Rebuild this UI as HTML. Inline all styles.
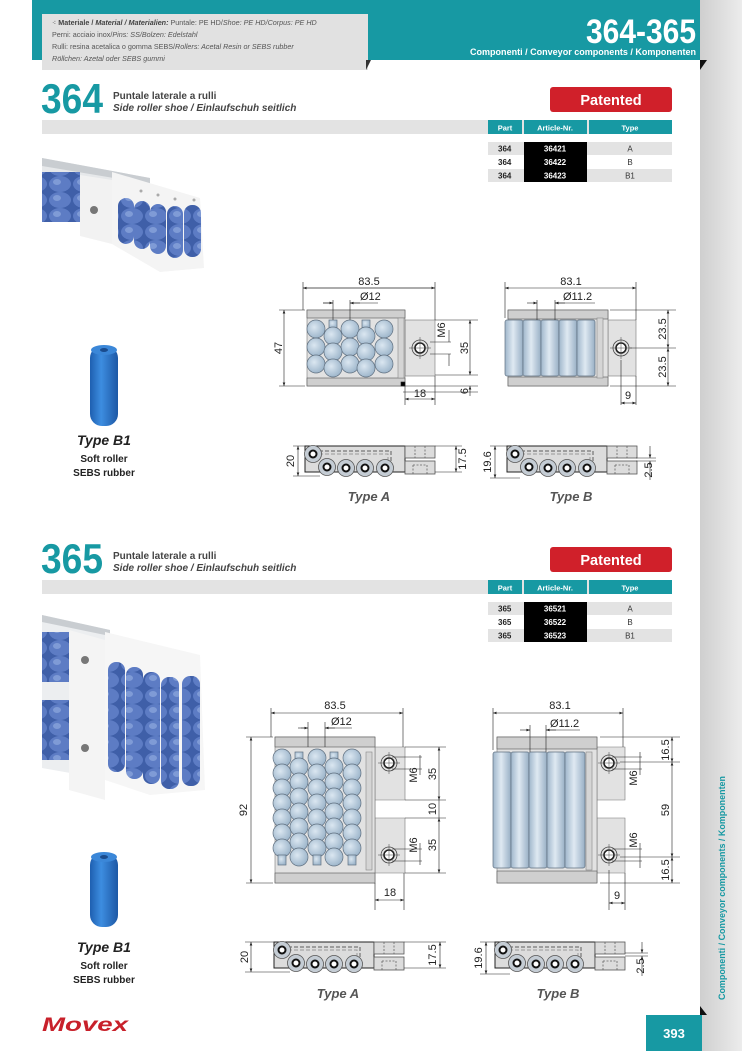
<!DOCTYPE html>
<html><head><meta charset="utf-8"><style>
html,body{margin:0;padding:0;background:#fff}
svg{display:block}
text{font-family:"Liberation Sans",sans-serif}
</style></head><body>
<svg width="742" height="1051" viewBox="0 0 742 1051" xmlns="http://www.w3.org/2000/svg">
<defs>
<linearGradient id="side" x1="0" x2="1"><stop offset="0" stop-color="#cfcfcf"/><stop offset="1" stop-color="#ececec"/></linearGradient>
<marker id="ar" viewBox="0 0 8 6" refX="8" refY="3" markerWidth="6" markerHeight="4.5" orient="auto-start-reverse"><path d="M0,0L8,3L0,6z" fill="#222"/></marker>
<pattern id="pball" width="24" height="16" patternUnits="userSpaceOnUse"><rect width="24" height="16" fill="#3f5fa8"/><ellipse cx="12" cy="8" rx="11" ry="8" fill="#5d7cc4"/><ellipse cx="9" cy="6" rx="4" ry="3" fill="#7f9bd6"/></pattern>
<radialGradient id="db" cx="0.4" cy="0.4" r="0.6"><stop offset="0" stop-color="#dbe7f1"/><stop offset="1" stop-color="#9fb7cc"/></radialGradient>
<linearGradient id="cyl" x1="0" x2="1"><stop offset="0" stop-color="#9fb6cb"/><stop offset="0.45" stop-color="#dfe9f2"/><stop offset="1" stop-color="#98afc5"/></linearGradient>
<linearGradient id="b1" x1="0" x2="1"><stop offset="0" stop-color="#1e5fb0"/><stop offset="0.4" stop-color="#3d8de0"/><stop offset="1" stop-color="#1d58a5"/></linearGradient>
<g id="sideA">
 <rect x="0" y="0" width="100" height="26" fill="#dcdcdc" stroke="#222" stroke-width="1"/>
 <path d="M14,5H86V24" fill="none" stroke="#888" stroke-width="1.5" stroke-dasharray="4,2"/>
 <path d="M14,8H83V24" fill="none" stroke="#999" stroke-width="1" stroke-dasharray="4,2"/>
 <rect x="100" y="0" width="30" height="12" fill="#dcdcdc" stroke="#555" stroke-width="0.8"/>
 <rect x="100" y="15" width="30" height="13" fill="#dcdcdc" stroke="#555" stroke-width="0.8"/>
 <path d="M110,0V12M120,0V12M108,19H122V28M108,19V28" fill="none" stroke="#666" stroke-width="0.8" stroke-dasharray="2,1.5"/>
 <g fill="#c4ccd4" stroke="#555" stroke-width="0.8">
 <circle cx="8" cy="8" r="8.5"/><circle cx="22" cy="21" r="8.5"/><circle cx="41" cy="22" r="8.5"/><circle cx="60" cy="22" r="8.5"/><circle cx="80" cy="22" r="8.5"/></g>
 <g fill="#fff" stroke="#111" stroke-width="2">
 <circle cx="8" cy="8" r="3.5"/><circle cx="22" cy="21" r="3.5"/><circle cx="41" cy="22" r="3.5"/><circle cx="60" cy="22" r="3.5"/><circle cx="80" cy="22" r="3.5"/></g>
</g>
<g id="hole"><circle r="8" fill="none" stroke="#444" stroke-width="0.8"/><circle r="5" fill="#fff" stroke="#222" stroke-width="1.6"/><path d="M-11,0H11M0,-11V11" stroke="#444" stroke-width="0.5"/></g>
</defs>

<!-- right strip -->
<rect x="700" y="0" width="42" height="1051" fill="url(#side)"/>
<!-- header -->
<rect x="32" y="0" width="668" height="60" fill="#1799a3"/>
<rect x="42" y="14" width="326" height="56" fill="#e1e1e1"/>
<path d="M366,60L371,60L366,70z" fill="#333"/>
<path d="M700,60L707,60L700,70z" fill="#111"/>
<text x="52" y="25" font-size="7.2" fill="#555"><tspan fill="#333">⁖</tspan><tspan font-weight="bold" fill="#444"> Materiale / </tspan><tspan font-weight="bold" font-style="italic" fill="#444">Material / Materialien:</tspan> Puntale: PE HD/<tspan font-style="italic">Shoe: PE HD/Corpus: PE HD</tspan></text>
<text x="52" y="37" font-size="7.2" fill="#555">Perni: acciaio inox/<tspan font-style="italic">Pins: SS/Bolzen: Edelstahl</tspan></text>
<text x="52" y="49" font-size="7.2" fill="#555">Rulli: resina acetalica o gomma SEBS/<tspan font-style="italic">Rollers: Acetal Resin or SEBS rubber</tspan></text>
<text x="52" y="61" font-size="7.2" fill="#555" font-style="italic">Röllchen: Azetal oder SEBS gummi</text>
<text x="696" y="43" font-size="34" font-weight="bold" fill="#fff" text-anchor="end" textLength="110" lengthAdjust="spacingAndGlyphs">364-365</text>
<text x="696" y="55" font-size="9.5" font-weight="bold" fill="#fff" text-anchor="end" textLength="226" lengthAdjust="spacingAndGlyphs">Componenti / Conveyor components / Komponenten</text>

<!-- section 364 -->
<text x="41" y="113" font-size="42" font-weight="bold" fill="#1799a3" textLength="62" lengthAdjust="spacingAndGlyphs">364</text>
<text x="113" y="99" font-size="10" font-weight="bold" fill="#444">Puntale laterale a rulli</text>
<text x="113" y="111" font-size="10" font-weight="bold" font-style="italic" fill="#444">Side roller shoe / Einlaufschuh seitlich</text>
<rect x="550" y="87" width="122" height="25" rx="3" fill="#d0202a"/>
<text x="611" y="105" font-size="14.5" font-weight="bold" fill="#fff" text-anchor="middle">Patented</text>
<rect x="42" y="120" width="630" height="14" fill="#e3e3e3"/>
<g>
<rect x="488" y="120" width="34" height="14" fill="#1799a3"/><rect x="524" y="120" width="63" height="14" fill="#1799a3"/><rect x="589" y="120" width="83" height="14" fill="#1799a3"/>
<text x="505" y="130.5" font-size="7.5" font-weight="bold" fill="#fff" text-anchor="middle">Part</text>
<text x="555" y="130.5" font-size="7.5" font-weight="bold" fill="#fff" text-anchor="middle">Article-Nr.</text>
<text x="630" y="130.5" font-size="7.5" font-weight="bold" fill="#fff" text-anchor="middle">Type</text>
<rect x="488" y="142" width="184" height="13" fill="#e3e3e3"/><rect x="488" y="169" width="184" height="13" fill="#e3e3e3"/>
<rect x="524" y="142" width="63" height="40" fill="#000"/>
<g font-size="8" font-weight="bold" fill="#222"><text x="498" y="151.5">364</text><text x="498" y="165">364</text><text x="498" y="178.5">364</text></g>
<g font-size="8" font-weight="bold" fill="#fff" text-anchor="middle"><text x="555" y="151.5">36421</text><text x="555" y="165">36422</text><text x="555" y="178.5">36423</text></g>
<g font-size="8" fill="#333" text-anchor="middle"><text x="630" y="151.5">A</text><text x="630" y="165">B</text><text x="630" y="178.5">B1</text></g>
</g>

<!-- photo 364 -->
<path d="M42,158L150,178L150,228L42,215z" fill="#e6e8ea"/>
<path d="M42,158L150,178L150,184L42,166z" fill="#c9cdd1"/>
<rect x="42" y="172" width="38" height="50" fill="url(#pball)"/>
<path d="M80,175L112,180L112,244L80,236z" fill="#f2f2f2"/>
<circle cx="94" cy="210" r="4" fill="#777"/>
<path d="M112,172L200,198L204,268L160,272L112,244z" fill="#f4f4f4"/>
<rect x="118" y="198" width="16" height="46" rx="8" fill="url(#pball)"/>
<rect x="134" y="201" width="16" height="48" rx="8" fill="url(#pball)"/>
<rect x="150" y="204" width="16" height="50" rx="8" fill="url(#pball)"/>
<rect x="167" y="206" width="16" height="52" rx="8" fill="url(#pball)"/>
<rect x="184" y="205" width="17" height="52" rx="8" fill="url(#pball)"/>
<g fill="#aaa"><circle cx="141" cy="191" r="1.5"/><circle cx="158" cy="195" r="1.5"/><circle cx="175" cy="199" r="1.5"/><circle cx="194" cy="200" r="1.5"/></g>

<!-- B1 364 -->
<rect x="90" y="346" width="28" height="80" rx="12" fill="url(#b1)"/>
<ellipse cx="104" cy="350" rx="13" ry="5" fill="#3b87d8"/><ellipse cx="104" cy="350" rx="4" ry="2" fill="#1a4c8e"/>
<text x="104" y="445" font-size="14" font-weight="bold" font-style="italic" fill="#222" text-anchor="middle">Type B1</text>
<text x="104" y="462" font-size="10" font-weight="bold" fill="#222" text-anchor="middle">Soft roller</text>
<text x="104" y="476" font-size="10" font-weight="bold" fill="#222" text-anchor="middle">SEBS rubber</text>

<!-- 364 type A top -->
<g stroke-width="0.6" stroke="#222" fill="none">
<rect x="405" y="320" width="30" height="56" fill="#e2e2e2" stroke="#777"/>
<rect x="307" y="310" width="98" height="76" fill="#e2e2e2" stroke="#777"/>
<rect x="307" y="310" width="98" height="8" fill="#cfcfcf" stroke="#555"/>
<rect x="307" y="378" width="98" height="8" fill="#cfcfcf" stroke="#555"/>
<rect x="398" y="318" width="6" height="60" fill="#d5d5d5" stroke="#888"/>
<g fill="url(#db)" stroke="#607080" stroke-width="0.7">
<circle cx="316" cy="329" r="9"/><circle cx="316" cy="347" r="9"/><circle cx="316" cy="364" r="9"/>
<circle cx="350" cy="329" r="9"/><circle cx="350" cy="347" r="9"/><circle cx="350" cy="364" r="9"/>
<circle cx="384" cy="329" r="9"/><circle cx="384" cy="347" r="9"/><circle cx="384" cy="364" r="9"/>
<rect x="329" y="320" width="8" height="8"/><circle cx="333" cy="336" r="9"/><circle cx="333" cy="352" r="9"/><circle cx="333" cy="368" r="9"/>
<rect x="362" y="320" width="8" height="8"/><circle cx="366" cy="336" r="9"/><circle cx="366" cy="352" r="9"/><circle cx="366" cy="368" r="9"/>
</g>
<use href="#hole" x="420" y="348"/>
<rect x="401" y="382" width="4" height="4" fill="#000"/>
<path d="M303,310V282M435,320V282M303,288H435" /><path d="M303,288H435" marker-start="url(#ar)" marker-end="url(#ar)"/>
<path d="M333,320V300M350,320V300M323,303H333M350,303H378"/><path d="M323,303H333" marker-end="url(#ar)"/><path d="M360,303H350" marker-end="url(#ar)"/>
<path d="M305,310H279M305,386H279"/><path d="M284,310V386" marker-start="url(#ar)" marker-end="url(#ar)"/>
<path d="M435,320H478M435,375H478M403,386H478M403,392H478"/><path d="M470,320V375" marker-start="url(#ar)" marker-end="url(#ar)"/><path d="M470,396V386" marker-end="url(#ar)"/>
<path d="M430,342H451M430,354H451"/><path d="M449,330V342M449,366V354" />
<path d="M405,386V405M435,376V405"/><path d="M405,399H435" marker-start="url(#ar)" marker-end="url(#ar)"/>
</g>
<g font-size="11" fill="#222">
<text x="369" y="285" text-anchor="middle">83.5</text>
<text x="360" y="300">Ø12</text>
<text transform="translate(282,348) rotate(-90)" text-anchor="middle">47</text>
<text transform="translate(468,348) rotate(-90)" text-anchor="middle">35</text>
<text transform="translate(468,391) rotate(-90)" text-anchor="middle">6</text>
<text transform="translate(445,330) rotate(-90)" text-anchor="middle">M6</text>
<text x="420" y="397" text-anchor="middle">18</text>
</g>

<!-- 364 type B top -->
<g stroke-width="0.6" stroke="#222" fill="none">
<rect x="608" y="320" width="28" height="56" fill="#e2e2e2" stroke="#777"/>
<rect x="508" y="310" width="100" height="76" fill="#e2e2e2" stroke="#777"/>
<rect x="508" y="310" width="100" height="9" fill="#cfcfcf" stroke="#555"/>
<rect x="508" y="377" width="100" height="9" fill="#cfcfcf" stroke="#555"/>
<rect x="597" y="318" width="6" height="60" fill="#d5d5d5" stroke="#888"/>
<g fill="url(#cyl)" stroke="#607080" stroke-width="0.7">
<rect x="505" y="320" width="18" height="56" rx="2"/><rect x="523" y="320" width="18" height="56" rx="2"/><rect x="541" y="320" width="18" height="56" rx="2"/><rect x="559" y="320" width="18" height="56" rx="2"/><rect x="577" y="320" width="18" height="56" rx="2"/>
</g>
<use href="#hole" x="621" y="348"/>
<path d="M505,318V282M636,320V282"/><path d="M505,288H636" marker-start="url(#ar)" marker-end="url(#ar)"/>
<path d="M537,320V300M555,320V300M535,303H537M555,303H595"/><path d="M527,303H537" marker-end="url(#ar)"/><path d="M565,303H555" marker-end="url(#ar)"/>
<path d="M610,310H676M630,348H676M610,386H676"/><path d="M668,310V348" marker-start="url(#ar)" marker-end="url(#ar)"/><path d="M668,348V386" marker-start="url(#ar)" marker-end="url(#ar)"/>
<path d="M621,360V405M636,376V405"/><path d="M621,403H636" marker-start="url(#ar)" marker-end="url(#ar)"/>
</g>
<g font-size="11" fill="#222">
<text x="571" y="285" text-anchor="middle">83.1</text>
<text x="563" y="300">Ø11.2</text>
<text transform="translate(666,329) rotate(-90)" text-anchor="middle">23.5</text>
<text transform="translate(666,367) rotate(-90)" text-anchor="middle">23.5</text>
<text x="628" y="399" text-anchor="middle">9</text>
</g>

<!-- 364 side views -->
<use href="#sideA" x="305" y="446"/>
<use href="#sideA" x="507" y="446"/>
<g stroke="#222" stroke-width="0.6" fill="none">
<path d="M293,446H305M293,476H320"/><path d="M298,446V476" marker-start="url(#ar)" marker-end="url(#ar)"/>
<path d="M435,446H462M435,472H462"/><path d="M456,446V472" marker-start="url(#ar)" marker-end="url(#ar)"/>
<path d="M490,446H507M490,478H520"/><path d="M495,446V478" marker-start="url(#ar)" marker-end="url(#ar)"/>
<path d="M636,458H656M636,461H656"/><path d="M650,446V458" marker-end="url(#ar)"/><path d="M650,480V461" marker-end="url(#ar)"/>
</g>
<g font-size="11" fill="#222">
<text transform="translate(294,461) rotate(-90)" text-anchor="middle">20</text>
<text transform="translate(466,459) rotate(-90)" text-anchor="middle">17.5</text>
<text transform="translate(491,462) rotate(-90)" text-anchor="middle">19.6</text>
<text transform="translate(652,470) rotate(-90)" text-anchor="middle">2.5</text>
</g>
<text x="369" y="501" font-size="13" font-weight="bold" font-style="italic" fill="#555" text-anchor="middle">Type A</text>
<text x="571" y="501" font-size="13" font-weight="bold" font-style="italic" fill="#555" text-anchor="middle">Type B</text>

<!-- section 365 -->
<text x="41" y="573" font-size="42" font-weight="bold" fill="#1799a3" textLength="62" lengthAdjust="spacingAndGlyphs">365</text>
<text x="113" y="559" font-size="10" font-weight="bold" fill="#444">Puntale laterale a rulli</text>
<text x="113" y="571" font-size="10" font-weight="bold" font-style="italic" fill="#444">Side roller shoe / Einlaufschuh seitlich</text>
<rect x="550" y="547" width="122" height="25" rx="3" fill="#d0202a"/>
<text x="611" y="565" font-size="14.5" font-weight="bold" fill="#fff" text-anchor="middle">Patented</text>
<rect x="42" y="580" width="630" height="14" fill="#e3e3e3"/>
<g>
<rect x="488" y="580" width="34" height="14" fill="#1799a3"/><rect x="524" y="580" width="63" height="14" fill="#1799a3"/><rect x="589" y="580" width="83" height="14" fill="#1799a3"/>
<text x="505" y="590.5" font-size="7.5" font-weight="bold" fill="#fff" text-anchor="middle">Part</text>
<text x="555" y="590.5" font-size="7.5" font-weight="bold" fill="#fff" text-anchor="middle">Article-Nr.</text>
<text x="630" y="590.5" font-size="7.5" font-weight="bold" fill="#fff" text-anchor="middle">Type</text>
<rect x="488" y="602" width="184" height="13" fill="#e3e3e3"/><rect x="488" y="629" width="184" height="13" fill="#e3e3e3"/>
<rect x="524" y="602" width="63" height="40" fill="#000"/>
<g font-size="8" font-weight="bold" fill="#222"><text x="498" y="611.5">365</text><text x="498" y="625">365</text><text x="498" y="638.5">365</text></g>
<g font-size="8" font-weight="bold" fill="#fff" text-anchor="middle"><text x="555" y="611.5">36521</text><text x="555" y="625">36522</text><text x="555" y="638.5">36523</text></g>
<g font-size="8" fill="#333" text-anchor="middle"><text x="630" y="611.5">A</text><text x="630" y="625">B</text><text x="630" y="638.5">B1</text></g>
</g>

<!-- photo 365 -->
<path d="M42,615L110,630L110,780L42,768z" fill="#eceef0"/>
<path d="M42,615L110,630L110,636L42,622z" fill="#c9cdd1"/>
<rect x="42" y="632" width="27" height="50" fill="url(#pball)"/>
<rect x="42" y="700" width="27" height="60" fill="url(#pball)"/>
<path d="M69,630L105,640L105,800L69,790z" fill="#f4f4f4"/>
<circle cx="85" cy="660" r="4" fill="#777"/><circle cx="85" cy="748" r="4" fill="#777"/>
<path d="M105,632L200,655L205,790L150,795L105,780z" fill="#f6f6f6"/>
<rect x="108" y="662" width="17" height="110" rx="8" fill="url(#pball)"/>
<rect x="126" y="667" width="17" height="112" rx="8" fill="url(#pball)"/>
<rect x="143" y="672" width="17" height="112" rx="8" fill="url(#pball)"/>
<rect x="161" y="677" width="18" height="112" rx="8" fill="url(#pball)"/>
<rect x="182" y="676" width="18" height="110" rx="8" fill="url(#pball)"/>

<!-- B1 365 -->
<rect x="90" y="853" width="28" height="74" rx="12" fill="url(#b1)"/>
<ellipse cx="104" cy="857" rx="13" ry="5" fill="#3b87d8"/><ellipse cx="104" cy="857" rx="4" ry="2" fill="#1a4c8e"/>
<text x="104" y="952" font-size="14" font-weight="bold" font-style="italic" fill="#222" text-anchor="middle">Type B1</text>
<text x="104" y="969" font-size="10" font-weight="bold" fill="#222" text-anchor="middle">Soft roller</text>
<text x="104" y="983" font-size="10" font-weight="bold" fill="#222" text-anchor="middle">SEBS rubber</text>

<!-- 365 type A top -->
<g stroke-width="0.6" stroke="#222" fill="none">
<path d="M375,747H405V800H375V818H405V873H375z" fill="#e2e2e2" stroke="#777"/>
<rect x="275" y="737" width="100" height="146" fill="#e2e2e2" stroke="#777"/>
<rect x="275" y="737" width="100" height="10" fill="#cfcfcf" stroke="#555"/>
<rect x="275" y="873" width="100" height="10" fill="#cfcfcf" stroke="#555"/>
<rect x="366" y="752" width="6" height="118" fill="#d5d5d5" stroke="#888"/>
<g fill="url(#db)" stroke="#607080" stroke-width="0.7">
<g id="colA"><circle cx="282" cy="758" r="9"/><circle cx="282" cy="773" r="9"/><circle cx="282" cy="788" r="9"/><circle cx="282" cy="803" r="9"/><circle cx="282" cy="818" r="9"/><circle cx="282" cy="833" r="9"/><circle cx="282" cy="848" r="9"/><rect x="278" y="855" width="8" height="10"/></g>
<use href="#colA" x="35"/><use href="#colA" x="70"/>
<g id="colB"><rect x="295" y="752" width="8" height="8"/><circle cx="299" cy="767" r="9"/><circle cx="299" cy="782" r="9"/><circle cx="299" cy="797" r="9"/><circle cx="299" cy="812" r="9"/><circle cx="299" cy="827" r="9"/><circle cx="299" cy="842" r="9"/><circle cx="299" cy="857" r="9"/></g>
<use href="#colB" x="35"/>
</g>
<use href="#hole" x="389" y="763"/><use href="#hole" x="389" y="855"/>
<path d="M271,737V708M403,747V708"/><path d="M271,713H403" marker-start="url(#ar)" marker-end="url(#ar)"/>
<path d="M308,747V722M325,747V722M301,728H308M325,728H352"/><path d="M298,728H308" marker-end="url(#ar)"/><path d="M335,728H325" marker-end="url(#ar)"/>
<path d="M273,737H246M273,883H246"/><path d="M251,737V883" marker-start="url(#ar)" marker-end="url(#ar)"/>
<path d="M405,747H446M405,800H446M405,818H446M405,873H446"/>
<path d="M439,747V800" marker-start="url(#ar)" marker-end="url(#ar)"/><path d="M439,800V818" /><path d="M439,818V873" marker-start="url(#ar)" marker-end="url(#ar)"/>
<path d="M392,757H422M392,769H422M392,849H422M392,861H422"/><path d="M420,755V775M420,843V865"/>
<path d="M375,883V910M404,873V910"/><path d="M375,900H404" marker-start="url(#ar)" marker-end="url(#ar)"/>
</g>
<g font-size="11" fill="#222">
<text x="335" y="709" text-anchor="middle">83.5</text>
<text x="331" y="725">Ø12</text>
<text transform="translate(247,810) rotate(-90)" text-anchor="middle">92</text>
<text transform="translate(436,774) rotate(-90)" text-anchor="middle">35</text>
<text transform="translate(436,809) rotate(-90)" text-anchor="middle">10</text>
<text transform="translate(436,845) rotate(-90)" text-anchor="middle">35</text>
<text transform="translate(417,775) rotate(-90)" text-anchor="middle">M6</text>
<text transform="translate(417,845) rotate(-90)" text-anchor="middle">M6</text>
<text x="390" y="896" text-anchor="middle">18</text>
</g>

<!-- 365 type B top -->
<g stroke-width="0.6" stroke="#222" fill="none">
<path d="M597,747H625V800H597V818H625V873H597z" fill="#e2e2e2" stroke="#777"/>
<rect x="497" y="737" width="100" height="146" fill="#e2e2e2" stroke="#777"/>
<rect x="497" y="737" width="100" height="12" fill="#cfcfcf" stroke="#555"/>
<rect x="497" y="871" width="100" height="12" fill="#cfcfcf" stroke="#555"/>
<rect x="586" y="752" width="6" height="118" fill="#d5d5d5" stroke="#888"/>
<g fill="url(#cyl)" stroke="#607080" stroke-width="0.7">
<rect x="493" y="752" width="18" height="116" rx="2"/><rect x="511" y="752" width="18" height="116" rx="2"/><rect x="529" y="752" width="18" height="116" rx="2"/><rect x="547" y="752" width="18" height="116" rx="2"/><rect x="565" y="752" width="20" height="116" rx="2"/>
</g>
<use href="#hole" x="609" y="763"/><use href="#hole" x="609" y="855"/>
<path d="M493,750V708M623,747V708"/><path d="M493,713H623" marker-start="url(#ar)" marker-end="url(#ar)"/>
<path d="M530,752V725M546,752V725M526,730H530M546,730H580"/><path d="M520,730H530" marker-end="url(#ar)"/><path d="M556,730H546" marker-end="url(#ar)"/>
<path d="M600,737H680M620,762H680M620,857H680M600,883H680"/>
<path d="M672,737V762" marker-start="url(#ar)" marker-end="url(#ar)"/><path d="M672,762V857" marker-start="url(#ar)" marker-end="url(#ar)"/><path d="M672,857V883" marker-start="url(#ar)" marker-end="url(#ar)"/>
<path d="M612,757H642M612,769H642M612,849H642M612,861H642"/><path d="M640,752V775M640,843V868"/>
<path d="M609,870V910M625,873V910"/><path d="M609,903H625" marker-start="url(#ar)" marker-end="url(#ar)"/>
</g>
<g font-size="11" fill="#222">
<text x="560" y="709" text-anchor="middle">83.1</text>
<text x="550" y="727">Ø11.2</text>
<text transform="translate(669,750) rotate(-90)" text-anchor="middle">16.5</text>
<text transform="translate(669,810) rotate(-90)" text-anchor="middle">59</text>
<text transform="translate(669,870) rotate(-90)" text-anchor="middle">16.5</text>
<text transform="translate(637,778) rotate(-90)" text-anchor="middle">M6</text>
<text transform="translate(637,840) rotate(-90)" text-anchor="middle">M6</text>
<text x="617" y="899" text-anchor="middle">9</text>
</g>

<!-- 365 side views -->
<use href="#sideA" x="274" y="942"/>
<use href="#sideA" x="495" y="942"/>
<g stroke="#222" stroke-width="0.6" fill="none">
<path d="M245,942H274M245,972H290"/><path d="M251,942V972" marker-start="url(#ar)" marker-end="url(#ar)"/>
<path d="M404,942H446M404,968H446"/><path d="M440,942V968" marker-start="url(#ar)" marker-end="url(#ar)"/>
<path d="M480,942H495M480,974H510"/><path d="M486,942V974" marker-start="url(#ar)" marker-end="url(#ar)"/>
<path d="M625,953H648M625,956H648"/><path d="M642,942V953" marker-end="url(#ar)"/><path d="M642,976V956" marker-end="url(#ar)"/>
</g>
<g font-size="11" fill="#222">
<text transform="translate(248,957) rotate(-90)" text-anchor="middle">20</text>
<text transform="translate(436,955) rotate(-90)" text-anchor="middle">17.5</text>
<text transform="translate(482,958) rotate(-90)" text-anchor="middle">19.6</text>
<text transform="translate(644,966) rotate(-90)" text-anchor="middle">2.5</text>
</g>
<text x="338" y="998" font-size="13" font-weight="bold" font-style="italic" fill="#555" text-anchor="middle">Type A</text>
<text x="558" y="998" font-size="13" font-weight="bold" font-style="italic" fill="#555" text-anchor="middle">Type B</text>

<!-- vertical label -->
<text transform="translate(725,888) rotate(-90)" font-size="9.5" font-weight="bold" fill="#1799a3" text-anchor="middle" textLength="224" lengthAdjust="spacingAndGlyphs">Componenti / Conveyor components / Komponenten</text>

<!-- footer -->
<text x="42" y="1031" font-size="19" font-weight="bold" font-style="italic" fill="#c8202a" textLength="86" lengthAdjust="spacingAndGlyphs">Movex</text>
<path d="M700,1006L707,1015L700,1015z" fill="#111"/>
<rect x="646" y="1015" width="56" height="36" fill="#1799a3"/>
<text x="674" y="1038" font-size="13" font-weight="bold" fill="#fff" text-anchor="middle">393</text>
</svg>
</body></html>
